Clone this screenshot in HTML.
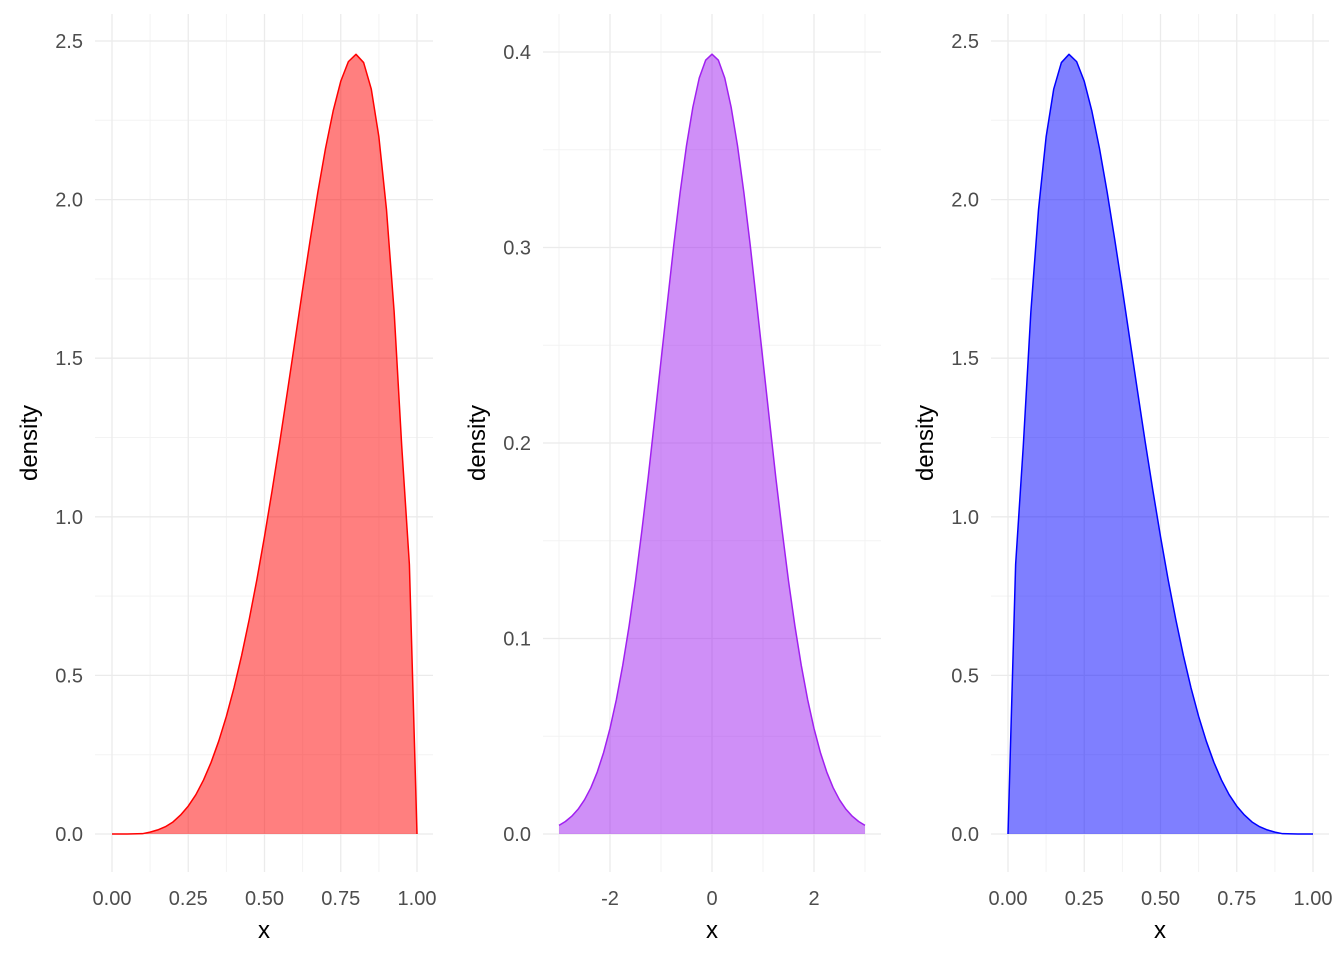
<!DOCTYPE html>
<html><head><meta charset="utf-8"><style>
body{margin:0;background:#fff;}
svg{display:block;font-family:"Liberation Sans",Arial,sans-serif;}
</style></head><body>
<svg id="chart" width="1344" height="960" viewBox="0 0 1344 960"></svg>
<script>
// Panel 1: red density
const redX = [0,0.05,0.1,0.125,0.15,0.175,0.2,0.225,0.25,0.275,0.3,0.325,0.35,0.375,0.4,0.425,0.45,0.475,0.5,0.525,0.55,0.575,0.6,0.625,0.65,0.675,0.7,0.725,0.75,0.775,0.8,0.825,0.85,0.875,0.9,0.925,0.95,0.975,1.0];
const redY = [0,0,0.001,0.006,0.013,0.023,0.038,0.060,0.088,0.124,0.17,0.226,0.293,0.371,0.461,0.563,0.677,0.802,0.938,1.083,1.235,1.394,1.555,1.717,1.874,2.024,2.161,2.279,2.373,2.435,2.458,2.432,2.349,2.198,1.968,1.647,1.222,0.85,0];
// Panel 2: purple density
const purpleX = [-3,-2.875,-2.75,-2.625,-2.5,-2.375,-2.25,-2.125,-2,-1.875,-1.75,-1.625,-1.5,-1.375,-1.25,-1.125,-1,-0.875,-0.75,-0.625,-0.5,-0.375,-0.25,-0.125,0,0.125,0.25,0.375,0.5,0.625,0.75,0.875,1,1.125,1.25,1.375,1.5,1.625,1.75,1.875,2,2.125,2.25,2.375,2.5,2.625,2.75,2.875,3];
const purpleY = [0.0044,0.0064,0.0091,0.0127,0.0175,0.0237,0.0317,0.0417,0.054,0.0688,0.0863,0.1065,0.1295,0.1552,0.1826,0.2121,0.242,0.2717,0.3011,0.3281,0.3521,0.3718,0.3867,0.3958,0.3989,0.3958,0.3867,0.3718,0.3521,0.3281,0.3011,0.2717,0.242,0.2121,0.1826,0.1552,0.1295,0.1065,0.0863,0.0688,0.054,0.0417,0.0317,0.0237,0.0175,0.0127,0.0091,0.0064,0.0044];
// Panel 3: blue density
const blueX = redX.map(v=>+(1-v).toFixed(3)).reverse();
const blueY = redY.slice().reverse();
// Ticks
const betaXTicks = [0,0.25,0.5,0.75,1];
const betaXLabels = ["0.00","0.25","0.50","0.75","1.00"];
const betaYTicks = [0,0.5,1,1.5,2,2.5];
const betaYLabels = ["0.0","0.5","1.0","1.5","2.0","2.5"];
const normXTicks = [-2,0,2];
const normXLabels = ["-2","0","2"];
const normYTicks = [0,0.1,0.2,0.3,0.4];
const normYLabels = ["0.0","0.1","0.2","0.3","0.4"];

const NS="http://www.w3.org/2000/svg";
const svg=document.getElementById('chart');
function mk(tag,attrs,parent){const e=document.createElementNS(NS,tag);for(const k in attrs)e.setAttribute(k,attrs[k]);(parent||svg).appendChild(e);return e;}

function panel(cfg){
  const g=mk('g',{});
  
  
  const sx=v=>cfg.x0+(v-cfg.xmin)/(cfg.xmax-cfg.xmin)*(cfg.x1-cfg.x0);
  const sy=v=>834-v*cfg.yscale;
  const L=cfg.left,R=cfg.right,T=14,B=872;
  cfg.xMinor.forEach(v=>{const l=mk('line',{x1:sx(v),x2:sx(v),y1:T,y2:B,stroke:'#f3f3f3','stroke-width':1},g);
    });
  cfg.yMinor.forEach(v=>{const l=mk('line',{x1:L,x2:R,y1:sy(v),y2:sy(v),stroke:'#f3f3f3','stroke-width':1},g);
    });
  cfg.xTicks.forEach((v,i)=>{const l=mk('line',{x1:sx(v),x2:sx(v),y1:T,y2:B,stroke:'#ebebeb','stroke-width':1.3},g);
    
    const t=mk('text',{x:sx(v),y:905,'text-anchor':'middle','font-size':20,fill:'#4d4d4d'},g);t.textContent=cfg.xLabels[i];
    });
  cfg.yTicks.forEach((v,i)=>{const l=mk('line',{x1:L,x2:R,y1:sy(v),y2:sy(v),stroke:'#ebebeb','stroke-width':1.3},g);
    
    const t=mk('text',{x:L-12,y:sy(v)+7,'text-anchor':'end','font-size':20,fill:'#4d4d4d'},g);t.textContent=cfg.yLabels[i];
    });
  let line='';
  cfg.xs.forEach((v,i)=>{line+=(i?' L':'M')+sx(v).toFixed(2)+','+sy(cfg.ys[i]).toFixed(2);});
  const n=cfg.xs.length;
  const d='M'+sx(cfg.xs[0]).toFixed(2)+','+sy(0)+' L'+line.slice(1)+' L'+sx(cfg.xs[n-1]).toFixed(2)+','+sy(0)+' Z';
  const a=mk('path',{d:d,fill:cfg.color,'fill-opacity':0.5,stroke:'none'},g);
  
  const c=mk('path',{d:line,fill:'none',stroke:cfg.color,'stroke-width':1.5,'stroke-linejoin':'round'},g);
  
  const xt=mk('text',{x:(L+R)/2,y:938,'text-anchor':'middle','font-size':24,fill:'#000'},g);xt.textContent='x';
  
  const yt=mk('text',{x:0,y:0,'text-anchor':'middle','font-size':24,fill:'#000',transform:'translate('+(L-58)+',443) rotate(-90)'},g);yt.textContent='density';
  
}
const betaMinorY=[0.25,0.75,1.25,1.75,2.25];
panel({name:'red-density-panel',x0:112,x1:417,xmin:0,xmax:1,yscale:317.2,left:95,right:433,
  xTicks:betaXTicks,xLabels:betaXLabels,yTicks:betaYTicks,yLabels:betaYLabels,
  xMinor:[0.125,0.375,0.625,0.875],yMinor:betaMinorY,xs:redX,ys:redY,color:'#ff0000'});
panel({name:'purple-density-panel',x0:610,x1:814,xmin:-2,xmax:2,yscale:1955,left:543,right:881,
  xTicks:normXTicks,xLabels:normXLabels,yTicks:normYTicks,yLabels:normYLabels,
  xMinor:[-3,-1,1,3],yMinor:[0.05,0.15,0.25,0.35],xs:purpleX,ys:purpleY,color:'#a020f0'});
panel({name:'blue-density-panel',x0:1008,x1:1313,xmin:0,xmax:1,yscale:317.2,left:991,right:1329,
  xTicks:betaXTicks,xLabels:betaXLabels,yTicks:betaYTicks,yLabels:betaYLabels,
  xMinor:[0.125,0.375,0.625,0.875],yMinor:betaMinorY,xs:blueX,ys:blueY,color:'#0000ff'});
</script>
</body></html>
